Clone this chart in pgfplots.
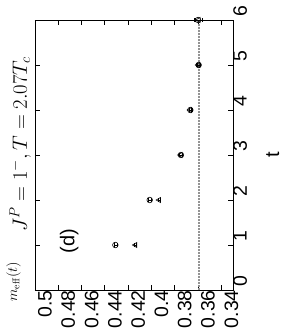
\documentclass[border=0pt]{standalone}
\usepackage[no-math]{fontspec}
\setmainfont{Liberation Sans}
\usepackage{pgfplots}
\pgfplotsset{compat=1.18}
\begin{document}
\begin{tikzpicture}
\begin{axis}[
  scale only axis, width=198bp, height=270bp,
  xmin=0.33, xmax=0.5, x dir=reverse,
  ymin=0, ymax=6,
  xtick={0.34,0.36,0.38,0.40,0.42,0.44,0.46,0.48,0.50},
  xticklabels={0.34,0.36,0.38,0.4,0.42,0.44,0.46,0.48,0.5},
  ytick={0,1,2,3,4,5,6},
  yticklabels={0,1,2,3,4,5,6},
  tick align=inside,
  xtick pos=both, ytick pos=both,
  xticklabel pos=left, yticklabel pos=right,
  major tick length=5bp,
  xticklabel style={rotate=90, anchor=east, inner sep=0pt, yshift=-10bp, font=\fontsize{19.5}{19.5}\selectfont},
  yticklabel style={rotate=90, anchor=north, inner sep=0pt, xshift=9bp, font=\fontsize{19.5}{19.5}\selectfont},
  axis line style={line width=0.8bp},
  every tick/.style={black, line width=0.8bp},
  clip=false,
]
\addplot[gray!85, densely dotted, line width=2bp] coordinates {(0.3595,0) (0.3595,6)};
\addplot[only marks, black, mark=o, mark size=2.8bp, mark options={line width=0.6bp},
  error bars/.cd, x dir=both, x explicit, error bar style={line width=0.6bp}, error mark options={rotate=90, mark size=2bp}]
  coordinates {(0.431,1) +- (0.0012,0) (0.4015,2) +- (0.0012,0) (0.3747,3) +- (0.0012,0)
               (0.3666,4) +- (0.0012,0) (0.3595,5) +- (0.0015,0) (0.3600,6) +- (0.0035,0)};
\addplot[only marks, black, mark=triangle, mark size=3bp, mark options={rotate=90, line width=0.6bp},
  error bars/.cd, x dir=both, x explicit, error bar style={line width=0.6bp}, error mark options={rotate=90, mark size=2bp}]
  coordinates {(0.4138,1) +- (0.001,0) (0.3934,2) +- (0.001,0) (0.3750,3) +- (0.001,0)
               (0.3668,4) +- (0.001,0) (0.3598,5) +- (0.0015,0) (0.3595,6) +- (0.003,0)};
\node[rotate=90, font=\fontsize{20}{20}\selectfont] at (axis cs:0.4707,1.08) {(d)};
\node[rotate=90, anchor=south, inner sep=0pt, font=\fontsize{21}{21}\selectfont] at ([xshift=-4bp]rel axis cs:0,0.54) {$J^P=1^-, T=2.07T_c$};
\node[rotate=90, anchor=south, inner sep=0pt, font=\fontsize{14.5}{14.5}\selectfont] at ([xshift=-14bp]rel axis cs:0,0.031) {$m_{\mathrm{eff}}(t)$};
\node[rotate=90, anchor=north, inner sep=0pt, font=\fontsize{20}{20}\selectfont] at ([xshift=33bp]rel axis cs:1,0.5) {t};
\end{axis}
\pgfresetboundingbox
\path[use as bounding box] (-35bp,-46bp) rectangle (249bp,290bp);
\end{tikzpicture}
\end{document}
